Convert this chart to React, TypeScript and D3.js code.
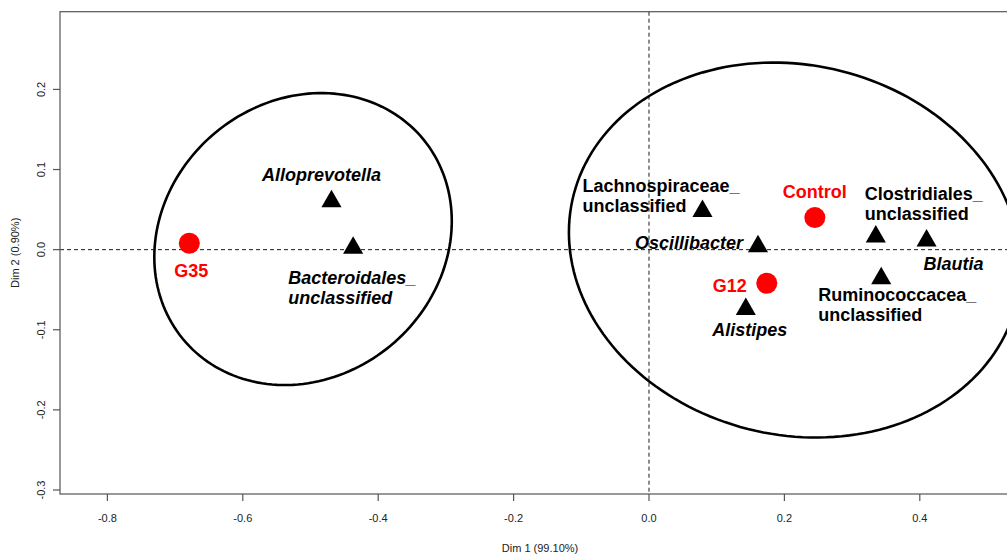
import React from "react";
import * as d3 from "d3";

// ---- Data ----
const groupNames = ["G35", "Control", "G12"];
const groupDim1 = [-0.679, 0.245, 0.174];
const groupDim2 = [0.008, 0.04, -0.042];

const taxaNames = [
  "Alloprevotella",
  "Bacteroidales_\nunclassified",
  "Lachnospiraceae_\nunclassified",
  "Clostridiales_\nunclassified",
  "Oscillibacter",
  "Blautia",
  "Ruminococcacea_\nunclassified",
  "Alistipes",
];
const taxaItalic = [true, true, false, false, true, true, false, true];
const taxaDim1 = [-0.469, -0.437, 0.079, 0.335, 0.161, 0.41, 0.343, 0.143];
const taxaDim2 = [0.062, 0.004, 0.05, 0.018, 0.006, 0.013, -0.034, -0.0725];

// confidence ellipses: centre, half extents, correlation
const ellipseCx = [-0.511, 0.2154];
const ellipseCy = [0.0132, -0.0005];
const ellipseHx = [0.2197, 0.3337];
const ellipseHy = [0.1822, 0.234];
const ellipseR = [0.123, -0.094];

const xTicks = [-0.8, -0.6, -0.4, -0.2, 0.0, 0.2, 0.4];
const yTicks = [-0.3, -0.2, -0.1, 0.0, 0.1, 0.2];
const xTitle = "Dim 1 (99.10%)";
const yTitle = "Dim 2 (0.90%)";

// ---- Layout (label placement, pixel offsets from marks) ----
const groupLabelLayout = [
  { dx: 2, dy: 27, anchor: "middle" },
  { dx: 0, dy: -26, anchor: "middle" },
  { dx: -20, dy: 2, anchor: "end" },
];
const taxaLabelLayout = [
  { dx: -10, dy: -25, anchor: "middle" },
  { dx: -65, dy: 31, anchor: "start" },
  { dx: -120, dy: -24, anchor: "start" },
  { dx: -11, dy: -42, anchor: "start" },
  { dx: -15, dy: -2, anchor: "end" },
  { dx: -3, dy: 24, anchor: "start" },
  { dx: -63, dy: 18, anchor: "start" },
  { dx: 4, dy: 22, anchor: "middle" },
];

const W = 1007;
const H = 555;
const L = 60, R = 1020, T = 11.7, B = 494;

export default function App() {
  const x = d3.scaleLinear().domain([-0.87, 0.548]).range([L, R]);
  const y = d3.scaleLinear().domain([-0.305, 0.297]).range([B, T]);

  const line = d3
    .line<[number, number]>()
    .x((d) => x(d[0]))
    .y((d) => y(d[1]))
    .curve(d3.curveLinearClosed);

  const ellipsePaths = ellipseCx.map((cx, i) => {
    const pts: [number, number][] = d3.range(0, 361, 2).map((deg) => {
      const t = (deg * Math.PI) / 180;
      const r = ellipseR[i];
      return [
        cx + ellipseHx[i] * Math.cos(t),
        ellipseCy[i] + ellipseHy[i] * (r * Math.cos(t) + Math.sqrt(1 - r * r) * Math.sin(t)),
      ];
    });
    return line(pts) as string;
  });

  const tri = d3.symbol(d3.symbolTriangle, 175)() as string;
  const labelFont = "'Liberation Sans', Arial, sans-serif";
  const tickFont = "'Liberation Sans', Arial, sans-serif";

  const renderLabel = (text: string, px: number, py: number, anchor: string, italic: boolean, color: string, key: string) => {
    const lines = text.split("\n");
    return (
      <text
        key={key}
        x={px}
        y={py}
        textAnchor={anchor}
        fontFamily={labelFont}
        fontWeight="bold"
        fontStyle={italic ? "italic" : "normal"}
        fontSize={18}
        fill={color}
      >
        {lines.map((ln, j) => (
          <tspan key={j} x={px} y={py + j * 20} dy="0.35em">
            {ln}
          </tspan>
        ))}
      </text>
    );
  };

  return (
    <div style={{ position: "absolute", left: 0, top: 0 }}>
      <svg width={W} height={H} style={{ display: "block", background: "#fff" }}>
        <defs>
          <clipPath id="plotclip">
            <rect x={L} y={T} width={R - L} height={B - T} />
          </clipPath>
        </defs>

        {/* reference dashed lines */}
        <line x1={x(0)} x2={x(0)} y1={T} y2={B} stroke="#000" strokeWidth={0.9} strokeDasharray="4,3" />
        <line x1={L} x2={R} y1={y(0)} y2={y(0)} stroke="#000" strokeWidth={0.9} strokeDasharray="4,3" />

        {/* ellipses */}
        <g clipPath="url(#plotclip)">
          {ellipsePaths.map((p, i) => (
            <path key={i} d={p} fill="none" stroke="#000" strokeWidth={2.6} />
          ))}
        </g>

        {/* taxa triangles */}
        {taxaDim1.map((v, i) => (
          <path key={"t" + i} d={tri} transform={`translate(${x(v)},${y(taxaDim2[i]) + 1.5})`} fill="#000" />
        ))}

        {/* group circles */}
        {groupDim1.map((v, i) => (
          <circle key={"g" + i} cx={x(v)} cy={y(groupDim2[i])} r={10.5} fill="#ff0000" />
        ))}

        {/* labels */}
        {taxaNames.map((n, i) =>
          renderLabel(
            n,
            x(taxaDim1[i]) + taxaLabelLayout[i].dx,
            y(taxaDim2[i]) + taxaLabelLayout[i].dy,
            taxaLabelLayout[i].anchor,
            taxaItalic[i],
            "#000",
            "tl" + i
          )
        )}
        {groupNames.map((n, i) =>
          renderLabel(
            n,
            x(groupDim1[i]) + groupLabelLayout[i].dx,
            y(groupDim2[i]) + groupLabelLayout[i].dy,
            groupLabelLayout[i].anchor,
            false,
            "#ff0000",
            "gl" + i
          )
        )}

        {/* box */}
        <rect x={L} y={T} width={R - L} height={B - T} fill="none" stroke="#555" strokeWidth={1.2} />

        {/* x axis */}
        {xTicks.map((t) => (
          <g key={"xt" + t}>
            <line x1={x(t)} x2={x(t)} y1={B} y2={B + 7} stroke="#555" strokeWidth={1.2} />
            <text x={x(t)} y={518} dy="0.35em" textAnchor="middle" fontFamily={tickFont} fontSize={11} fill="#222">
              {t.toFixed(1)}
            </text>
          </g>
        ))}
        <text x={(L + R) / 2} y={548} dy="0.35em" textAnchor="middle" fontFamily={tickFont} fontSize={11} fill="#222">
          {xTitle}
        </text>

        {/* y axis */}
        {yTicks.map((t) => (
          <g key={"yt" + t}>
            <line x1={L - 7} x2={L} y1={y(t)} y2={y(t)} stroke="#555" strokeWidth={1.2} />
            <text
              transform={`translate(41,${y(t)}) rotate(-90)`}
              dy="0.35em"
              textAnchor="middle"
              fontFamily={tickFont}
              fontSize={11}
              fill="#222"
            >
              {t.toFixed(1)}
            </text>
          </g>
        ))}
        <text
          transform={`translate(15,${(T + B) / 2}) rotate(-90)`}
          dy="0.35em"
          textAnchor="middle"
          fontFamily={tickFont}
          fontSize={11}
          fill="#222"
        >
          {yTitle}
        </text>
      </svg>
    </div>
  );
}
